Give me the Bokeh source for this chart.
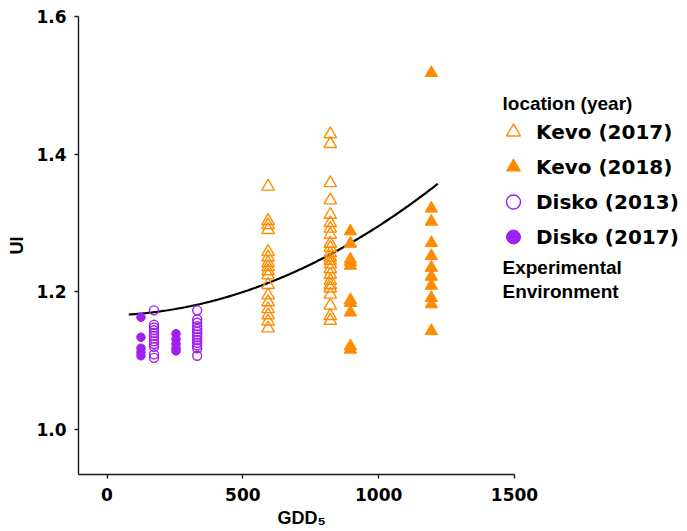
from bokeh.plotting import figure
from bokeh.models import Range1d, Legend, LegendItem, Label, FixedTicker, PrintfTickFormatter, Title
from bokeh.embed import file_html
from bokeh.resources import INLINE
import numpy as np

ORANGE = "#FF8C00"
PURPLE = "#A020F0"

# ---- data ----
# Disko (2017), filled circles
disko17_gdd = [125] * 5 + [254] * 5
disko17_ui = [1.163, 1.134, 1.118, 1.112, 1.107,
              1.139, 1.131, 1.124, 1.118, 1.114]

# Disko (2013), open circles
disko13_gdd = [173] * 12 + [332] * 13
disko13_ui = [1.173, 1.152, 1.148, 1.144, 1.140, 1.136, 1.132, 1.128, 1.124, 1.120, 1.109, 1.104,
              1.173, 1.160, 1.155, 1.150, 1.146, 1.142, 1.138, 1.134, 1.130, 1.126, 1.122, 1.118, 1.107]

# Kevo (2017), open triangles
kevo17_gdd = [593] * 17 + [822] * 23
kevo17_ui = [1.353, 1.303, 1.297, 1.290, 1.258, 1.250, 1.242, 1.236, 1.230, 1.224, 1.210, 1.195,
             1.185, 1.175, 1.166, 1.157, 1.147,
             1.429, 1.415, 1.358, 1.333, 1.312, 1.300, 1.292, 1.283, 1.270, 1.264, 1.256, 1.250,
             1.245, 1.240, 1.233, 1.225, 1.216, 1.210, 1.205, 1.196, 1.180, 1.165, 1.158]

# Kevo (2018), filled triangles
kevo18_gdd = [896] * 10 + [1194] * 11
kevo18_ui = [1.288, 1.270, 1.247, 1.243, 1.238, 1.188, 1.184, 1.170, 1.121, 1.116,
             1.518, 1.321, 1.302, 1.271, 1.252, 1.235, 1.222, 1.209, 1.191, 1.182, 1.143]

# quadratic fit UI = a + b*GDD + c*GDD^2
fit_coef = [1.1657, 5.77e-6, 1.242e-7]
fit_gdd_range = [80, 1218]

x_ticks = [0, 500, 1000, 1500]
y_ticks = [1.0, 1.2, 1.4, 1.6]
x_axis_extent = (-105, 1500)

# ---- figure ----
# frame covers the right-hand legend area too; the x axis itself stops at 1500
p = figure(width=687, height=531, output_backend="svg", toolbar_location=None,
           x_range=Range1d(-105, 2137), y_range=Range1d(0.9345, 1.6),
           min_border_left=78, min_border_right=0, min_border_top=16, min_border_bottom=57)
p.outline_line_color = None
p.xgrid.grid_line_color = None
p.ygrid.grid_line_color = None
p.background_fill_color = "white"
p.border_fill_color = "white"

for ax in (p.xaxis[0], p.yaxis[0]):
    ax.axis_line_color = "#1a1a1a"
    ax.axis_line_width = 1.4
    ax.major_tick_line_color = "#1a1a1a"
    ax.major_tick_line_width = 1.4
    ax.major_tick_out = 4
    ax.major_tick_in = 0
    ax.minor_tick_line_color = None
    ax.major_label_text_font = "DejaVu Sans"
    ax.major_label_text_font_style = "bold"
    ax.major_label_text_font_size = "17px"
    ax.major_label_text_color = "black"

p.xaxis.bounds = x_axis_extent
p.xaxis.ticker = FixedTicker(ticks=x_ticks)
p.yaxis.ticker = FixedTicker(ticks=y_ticks)
p.xaxis.formatter = PrintfTickFormatter(format="%d")
p.yaxis.formatter = PrintfTickFormatter(format="%.1f")
p.xaxis.major_label_standoff = 9
p.yaxis.major_label_standoff = 8

p.yaxis.axis_label = "UI"
p.yaxis.axis_label_text_font = "Liberation Sans"
p.yaxis.axis_label_text_font_style = "bold"
p.yaxis.axis_label_text_font_size = "18px"
p.yaxis.axis_label_standoff = 6
p.yaxis.axis_label_text_color = "black"

# x axis title (left-aligned title below the axis, shifted under the axis centre)
p.add_layout(Title(text="GDD₅", align="left", offset=199, standoff=4,
                   text_font="Liberation Sans", text_font_style="bold",
                   text_font_size="18px", text_color="black"), "below")

# fitted curve
g = np.linspace(fit_gdd_range[0], fit_gdd_range[1], 200)
ui_fit = fit_coef[0] + fit_coef[1] * g + fit_coef[2] * g ** 2
p.line(g, ui_fit, line_color="black", line_width=2.2)

r_k17 = p.scatter(kevo17_gdd, kevo17_ui, marker="triangle", size=12.5,
                  fill_color=None, line_color=ORANGE, line_width=1.4)
r_k18 = p.scatter(kevo18_gdd, kevo18_ui, marker="triangle", size=12.5,
                  fill_color=ORANGE, line_color=ORANGE, line_width=1)
r_d13 = p.scatter(disko13_gdd, disko13_ui, marker="circle", size=9,
                  fill_color=None, line_color=PURPLE, line_width=1.4)
r_d17 = p.scatter(disko17_gdd, disko17_ui, marker="circle", size=8.5,
                  fill_color=PURPLE, line_color=PURPLE, line_width=1)

legend = Legend(items=[
    LegendItem(label="Kevo (2017)", renderers=[r_k17]),
    LegendItem(label="Kevo (2018)", renderers=[r_k18]),
    LegendItem(label="Disko (2013)", renderers=[r_d13]),
    LegendItem(label="Disko (2017)", renderers=[r_d17]),
], location=(415, 220), glyph_width=40, glyph_height=35, spacing=0, padding=0,
    label_standoff=3, label_text_font="DejaVu Sans", label_text_font_style="bold",
    label_text_font_size="20px", label_text_color="black",
    background_fill_alpha=0, border_line_alpha=0)
p.add_layout(legend)

lab_style = dict(x_units="screen", y_units="screen", text_font="Liberation Sans",
                 text_font_style="bold", text_color="black",
                 text_baseline="middle", text_align="left")
p.add_layout(Label(x=424, y=371, text="location (year)", text_font_size="19px", **lab_style))
p.add_layout(Label(x=424, y=207, text="Experimental", text_font_size="19px", **lab_style))
p.add_layout(Label(x=424, y=183, text="Environment", text_font_size="19px", **lab_style))

open("out.html", "w").write(file_html(p, INLINE))
